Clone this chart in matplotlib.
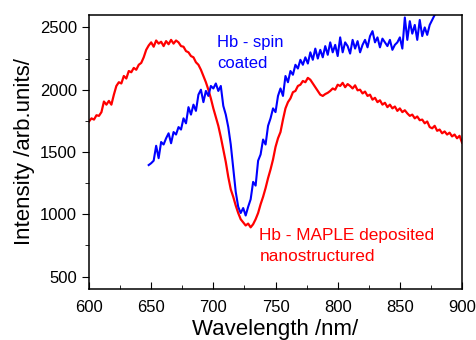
import numpy as np
import matplotlib
matplotlib.use("Agg")
import matplotlib.pyplot as plt
from matplotlib.ticker import MultipleLocator

plt.rcParams['font.family'] = ['Liberation Sans', 'DejaVu Sans']

# Hb - MAPLE deposited nanostructured (red), 600-900 nm every 2 nm
wl_maple = np.arange(600, 901, 2)
int_maple = [
    1745, 1770, 1760, 1795, 1790, 1820, 1905, 1880, 1910, 1880,
    1960, 2030, 2060, 2050, 2110, 2090, 2150, 2140, 2175, 2160,
    2200, 2215, 2260, 2320, 2355, 2380, 2345, 2395, 2370, 2385,
    2350, 2390, 2365, 2400, 2370, 2395, 2380, 2350, 2345, 2310,
    2300, 2270, 2260, 2220, 2200, 2160, 2110, 2060, 2000, 1930,
    1850, 1780, 1710, 1620, 1520, 1420, 1300, 1200, 1140, 1070,
    1010, 960, 935, 910, 925, 895, 920, 960, 1010, 1080,
    1140, 1210, 1290, 1360, 1440, 1540, 1610, 1660, 1760, 1850,
    1900, 1930, 1980, 1990, 2030, 2040, 2070, 2060, 2095, 2080,
    2050, 2020, 1990, 1960, 1950, 1965, 1975, 1990, 2010, 2000,
    2040, 2030, 2055, 2020, 2045, 2030, 2010, 2035, 1995, 2000,
    1970, 1985, 1950, 1960, 1920, 1935, 1900, 1915, 1880, 1895,
    1860, 1880, 1850, 1865, 1830, 1850, 1820, 1835, 1810, 1790,
    1800, 1770, 1785, 1755, 1760, 1730, 1745, 1700, 1690, 1710,
    1670, 1680, 1650, 1665, 1640, 1655, 1625, 1640, 1610, 1630,
    1575,
]

# Hb - spin coated (blue), 648-878 nm every 2 nm
wl_spin = np.arange(648, 879, 2)
int_spin = [
    1395, 1410, 1430, 1550, 1450, 1580, 1560, 1610, 1650, 1570,
    1660, 1640, 1700, 1680, 1770, 1730, 1860, 1800, 1880, 1830,
    1960, 2000, 1900, 1990, 1950, 2030, 2010, 2050, 1990, 2030,
    1870, 1800, 1700, 1560, 1370, 1180, 1060, 1010, 1050, 990,
    1060, 1120, 1260, 1230, 1430, 1480, 1600, 1560, 1710, 1770,
    1850, 1820, 1950, 2010, 1950, 2110, 2060, 2150, 2120, 2200,
    2170, 2240, 2200, 2260, 2210, 2300, 2240, 2330, 2250, 2320,
    2260, 2350, 2280, 2380, 2300, 2360, 2270, 2420, 2300, 2380,
    2350, 2290, 2400, 2330, 2390, 2300, 2360, 2400, 2340, 2430,
    2470, 2380, 2420, 2340, 2410, 2380, 2350, 2400, 2320, 2360,
    2380, 2420, 2330, 2580, 2400, 2550, 2450, 2520, 2400, 2560,
    2430, 2500, 2440, 2520, 2560, 2600,
]

fig = plt.figure(figsize=(4.77, 3.40), dpi=100)
ax = fig.add_axes([0.1866, 0.15, 0.782, 0.806])

ax.plot(wl_maple, int_maple, color='#ff0000', lw=1.6)
ax.plot(wl_spin, int_spin, color='#0000ff', lw=1.5)

ax.set_xlim(600, 900)
ax.set_ylim(400, 2600)
ax.xaxis.set_major_locator(MultipleLocator(50))
ax.xaxis.set_minor_locator(MultipleLocator(25))
ax.yaxis.set_major_locator(MultipleLocator(500))
ax.yaxis.set_minor_locator(MultipleLocator(250))
ax.tick_params(axis='x', which='both', direction='in', top=False, labelsize=12, pad=8)
ax.tick_params(axis='x', which='major', length=5)
ax.tick_params(axis='x', which='minor', length=3)
ax.tick_params(axis='y', which='both', direction='out', right=False, labelsize=12)
ax.tick_params(axis='y', which='major', length=5)
ax.tick_params(axis='y', which='minor', length=3)
for s in ax.spines.values():
    s.set_linewidth(1.1)

ax.set_xlabel('Wavelength /nm/', fontsize=16, labelpad=3)
ax.set_ylabel('Intensity /arb.units/', fontsize=16, labelpad=4)

ax.text(703, 2380, 'Hb - spin', color='#0000ff', fontsize=12, va='center', ha='left')
ax.text(703, 2212, 'coated', color='#0000ff', fontsize=12, va='center', ha='left')
ax.text(737, 828, 'Hb - MAPLE deposited', color='#ff0000', fontsize=12.4, va='center', ha='left')
ax.text(737, 660, 'nanostructured', color='#ff0000', fontsize=12.4, va='center', ha='left')

fig.savefig('out.png', dpi=100)
